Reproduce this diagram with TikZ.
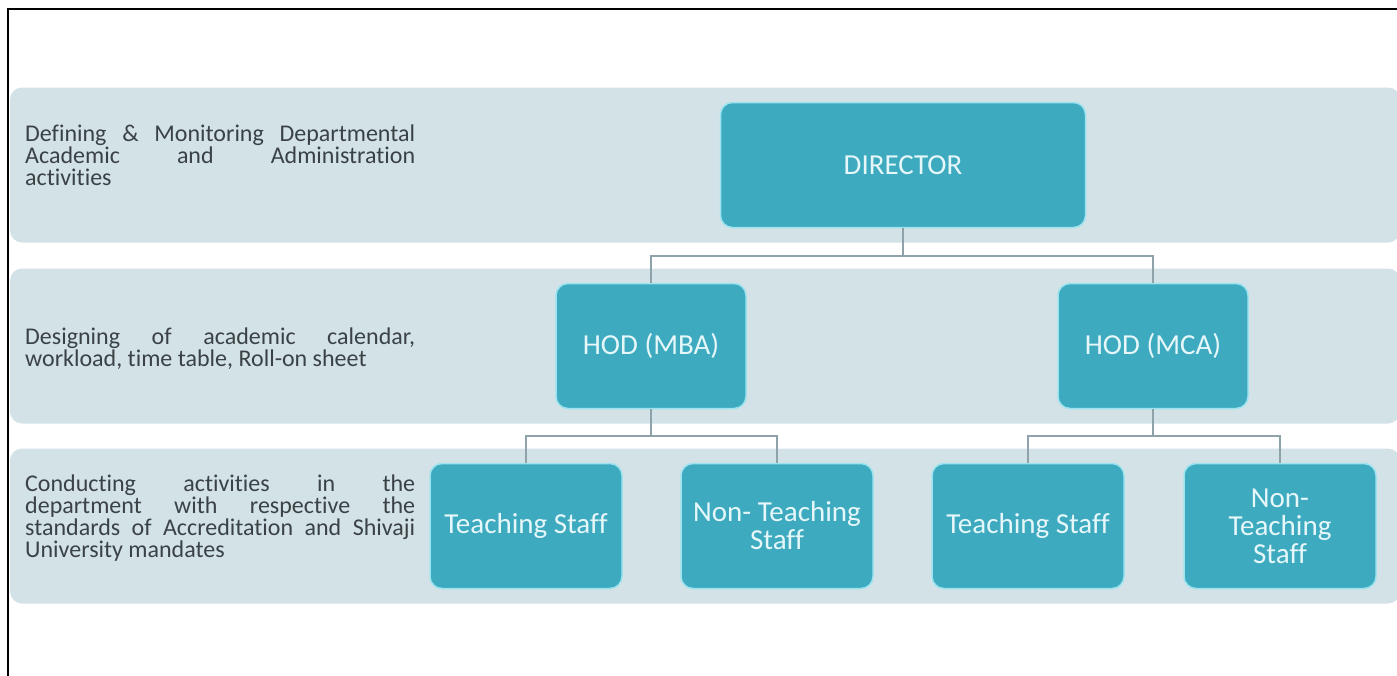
\documentclass[tikz,border=0pt]{standalone}
\usepackage{fontspec}
\setmainfont{Carlito}[Ligatures=NoCommon]
\usetikzlibrary{positioning}

\definecolor{bandgray}{HTML}{D3E2E7}
\definecolor{boxteal}{HTML}{3EAABF}
\definecolor{boxrim}{HTML}{9BE3EF}
\definecolor{boxtext}{HTML}{E6F7FA}
\definecolor{linkgray}{HTML}{8DA3A9}
\definecolor{desctext}{HTML}{3A4245}
\newcommand\nohyph{\hyphenpenalty=10000\relax\exhyphenpenalty=10000\relax\tolerance=10000\relax}

\begin{document}
\begin{tikzpicture}[x=1pt,y=-1pt,on grid,
    band/.style={fill=bandgray,rounded corners=12pt,minimum width=1390pt,minimum height=155pt,inner sep=0pt},
    desc/.style={anchor=west,text width=390pt,align=justify,inner sep=0pt,text=desctext,
      font=\fontsize{24}{22}\selectfont\nohyph},
    unit/.style={draw=boxrim,line width=1.5pt,fill=boxteal,rounded corners=12pt,text=boxtext,
      align=center,minimum width=190pt,minimum height=125pt,font=\fontsize{29}{28}\selectfont},
    link/.style={draw=linkgray,line width=1.6pt}]
\useasboundingbox (0,0) rectangle (1397,675);
\draw[line width=2.2pt] (1405,9) -- (8,9) -- (8,685);

% levels
  \node[band] (lvl1) at (705,165) {};
  \node[band] (lvl2) at (705,346) {};
  \node[band] (lvl3) at (705,526) {};

  \node[desc] (txt1) at (25,155) {Defining \& Monitoring Departmental\linebreak Academic and Administration\linebreak activities};
  \node[desc] (txt2) at (25,349) {Designing of academic calendar,\linebreak workload, time table, Roll-on sheet};
  \node[desc] (txt3) at (25,518) {Conducting activities in the\linebreak department with respective the\linebreak standards of Accreditation and Shivaji\linebreak University mandates};

  \node[unit,minimum width=365pt] (director) at (903,165) {DIRECTOR};
  \node[unit] (hodmba) [below left=181pt and 252pt of director]  {HOD (MBA)};
  \node[unit] (hodmca) [below right=181pt and 250pt of director] {HOD (MCA)};

  \node[unit,minimum width=192pt] (tsmba)  [below left=180pt and 125pt of hodmba]  {Teaching Staff};
  \node[unit,minimum width=192pt] (ntsmba) [below right=180pt and 126pt of hodmba] {Non- Teaching\\Staff};
  \node[unit,minimum width=192pt] (tsmca)  [below left=180pt and 125pt of hodmca]  {Teaching Staff};
  \node[unit,minimum width=192pt] (ntsmca) [below right=180pt and 127pt of hodmca] {Non-\\Teaching\\Staff};

  \path[link] (director.south) -- ++(0,28) -| (hodmba.north);
  \path[link] (director.south) -- ++(0,28) -| (hodmca.north);
  \path[link] (hodmba.south) -- ++(0,27) -| (tsmba.north);
  \path[link] (hodmba.south) -- ++(0,27) -| (ntsmba.north);
  \path[link] (hodmca.south) -- ++(0,27) -| (tsmca.north);
  \path[link] (hodmca.south) -- ++(0,27) -| (ntsmca.north);
\end{tikzpicture}
\end{document}
